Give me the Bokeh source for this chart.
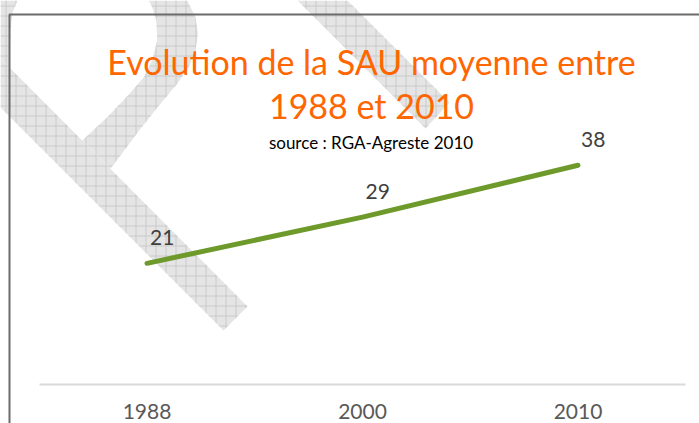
from bokeh.plotting import figure
from bokeh.models import Range1d, FixedTicker, Label, BoxAnnotation
from bokeh.embed import file_html
from bokeh.resources import INLINE
from bokeh.core.properties import value

# ---- data ----
years = ["1988", "2000", "2010"]
sau = [21, 29, 38]
title_lines = ["Evolution de la SAU moyenne entre", "1988 et 2010"]
subtitle = "source : RGA-Agreste 2010"

# ---- layout helpers (page px -> data) ----
W, H = 699, 423
ZERO_PX = 384           # canvas px of value 0 (category axis line)
CAT_PX = 215.5          # px per category
X0_PX = 146.5           # canvas px of first category centre
Y_PX = 5.77             # px per unit of SAU
xs_start = -X0_PX / CAT_PX
xs_end = xs_start + W / CAT_PX
ys_start = -(H - ZERO_PX) / Y_PX
ys_end = ZERO_PX / Y_PX


def cx(X):
    return xs_start + X / CAT_PX


def cy(Y):
    return (ZERO_PX - Y) / Y_PX


x_pos = list(range(len(years)))

p = figure(width=W, height=H, x_range=Range1d(xs_start, xs_end),
           y_range=Range1d(ys_start, ys_end), output_backend="svg",
           toolbar_location=None, y_axis_location=None,
           min_border_left=0, min_border_right=0, min_border_top=0,
           min_border_bottom=0)
p.grid.visible = False
p.outline_line_color = None
p.background_fill_color = "white"
p.border_fill_color = "white"

# ---- decorative watermark (page pixel outline) ----
leg = [(0, 58), (247, 306), (223, 330), (0, 107)]
loop = [(81.7, 140), (106.7, 116.7), (128.3, 94), (143.3, 76.7), (151.7, 60),
        (156.7, 40), (156, 20), (151.7, 6.7), (148.3, 0), (186.7, 0),
        (195, 16.7), (197.3, 33.3), (195, 50), (188.3, 66.7), (176.7, 83.3),
        (160, 103.3), (140, 128.3), (110, 168.3)]
strip = [(0, 0), (17, 0), (12, 12), (10, 30), (9, 67), (0, 58)]
band = [(297, 0), (347, 0), (449, 102), (425, 128)]
shapes = [leg, loop, strip, band]
p.patches(xs=[[cx(a) for a, b in s] for s in shapes],
          ys=[[cy(b) for a, b in s] for s in shapes],
          fill_color="#e5e5e5", line_color=None,
          hatch_pattern="+", hatch_color="#cacaca", hatch_scale=10,
          hatch_weight=1)

# ---- frame border (top & left visible) ----
p.add_layout(BoxAnnotation(left=9, right=5000, top=14, bottom=5000,
                           left_units="canvas", right_units="canvas",
                           top_units="canvas", bottom_units="canvas",
                           fill_color=None, fill_alpha=0,
                           line_color="#6b6b6b", line_alpha=1.0,
                           line_width=2))

# ---- data line & labels ----
p.line(x_pos, sau, line_color="#6E9A2C", line_width=5,
       line_cap="round", line_join="round")
p.text(x=x_pos, y=sau, text=[str(v) for v in sau], x_offset=3, y_offset=-26,
       text_font=value("Lato"), text_font_size="21px", text_color="#404040",
       text_align="left", text_baseline="alphabetic")

# ---- titles ----
p.add_layout(Label(x=cx(371), y=cy(61), text=title_lines[0],
                   text_align="center", text_baseline="alphabetic",
                   text_font="Lato", text_font_size="34px",
                   text_color="#FF6600"))
p.add_layout(Label(x=cx(371), y=cy(105), text=title_lines[1],
                   text_align="center", text_baseline="alphabetic",
                   text_font="Lato", text_font_size="34px",
                   text_color="#FF6600"))
p.add_layout(Label(x=cx(370.5), y=cy(142), text=subtitle,
                   text_align="center", text_baseline="alphabetic",
                   text_font="Lato", text_font_size="17px",
                   text_color="#000000"))

# ---- x axis (category axis at value 0) ----
ax = p.xaxis[0]
ax.fixed_location = 0
ax.ticker = FixedTicker(ticks=x_pos)
ax.major_label_overrides = {i: y for i, y in zip(x_pos, years)}
ax.bounds = (-0.5, len(years) - 0.5)
ax.axis_line_color = "#d9d9d9"
ax.axis_line_width = 2
ax.major_tick_line_color = None
ax.minor_tick_line_color = None
ax.major_label_standoff = 13
ax.major_label_text_font = "Lato"
ax.major_label_text_font_size = "21px"
ax.major_label_text_color = "#595959"

open("out.html", "w").write(file_html(p, INLINE))
